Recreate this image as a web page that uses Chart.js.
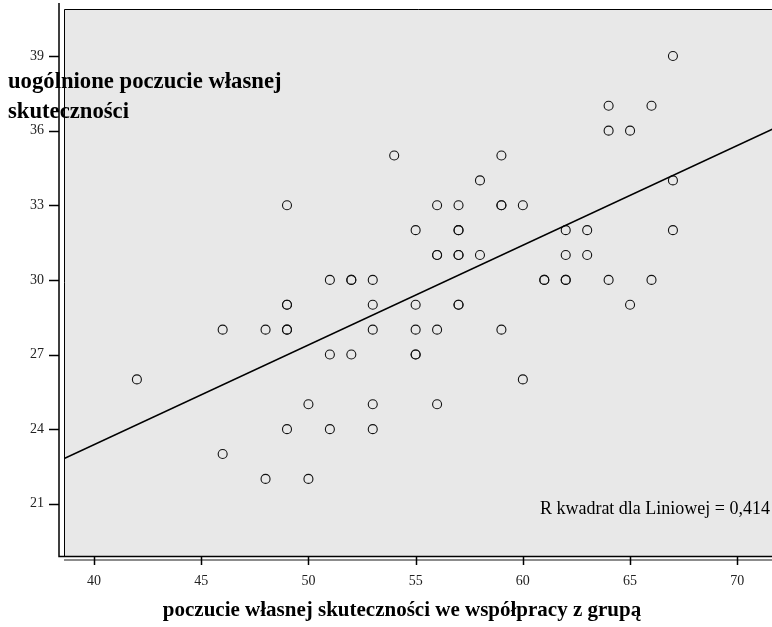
<!DOCTYPE html>
<html>
<head>
<meta charset="utf-8">
<script src="https://cdn.jsdelivr.net/npm/chart.js@4.4.1/dist/chart.umd.min.js"></script>
<style>
  html, body { margin: 0; padding: 0; background: #fff; overflow: hidden; }
  #wrap { width: 772px; height: 627px; position: relative; }
</style>
</head>
<body>
<div id="wrap"><canvas id="chart"></canvas></div>
<script>
// poczucie własnej skuteczności we współpracy z grupą (x) vs uogólnione poczucie własnej skuteczności (y)
// duplicates are kept as separate entries (drawn on top of each other, as in the original)
const collaboration = [
    42,
    46, 46,
    48, 48,
    49, 49, 49, 49, 49, 49,
    50, 50,
    51, 51, 51,
    52, 52, 52,
    53, 53, 53, 53, 53,
    54,
    55, 55, 55, 55, 55,
    56, 56, 56, 56, 56,
    57, 57, 57, 57, 57, 57, 57,
    58, 58,
    59, 59, 59, 59,
    60, 60,
    61, 61,
    62, 62, 62, 62,
    63, 63,
    64, 64, 64,
    65, 65,
    66, 66,
    67, 67, 67
];
const selfEfficacy = [
    26,
    28, 23,
    28, 22,
    33, 29, 29, 28, 28, 24,
    25, 22,
    30, 27, 24,
    30, 30, 27,
    30, 29, 28, 25, 24,
    35,
    32, 29, 28, 27, 27,
    33, 31, 31, 28, 25,
    33, 32, 32, 31, 31, 29, 29,
    34, 31,
    35, 33, 33, 28,
    33, 26,
    30, 30,
    32, 31, 30, 30,
    32, 31,
    37, 36, 30,
    36, 29,
    37, 30,
    39, 34, 32
];

// fit line at both ends
const fitX = [38, 73];
const fitY = [22.57, 36.6];

const xTicks = [40, 45, 50, 55, 60, 65, 70];
const yTicks = [21, 24, 27, 30, 33, 36, 39];

const xTitle = 'poczucie własnej skuteczności we współpracy z grupą';
const yTitle = ['uogólnione poczucie własnej', 'skuteczności'];
const rSquareLabel = 'R kwadrat dla Liniowej = 0,414';

const points = collaboration.map((x, i) => ({ x: x, y: selfEfficacy[i] }));
const fitLine = fitX.map((x, i) => ({ x: x, y: fitY[i] }));

const serif = '"Liberation Serif", "DejaVu Serif", serif';

// no extra room for the edge labels, the frame sits where the original has it
const noPadding = s => {
    s.paddingTop = 0;
    s.paddingBottom = 0;
    s.paddingLeft = 0;
    s.paddingRight = 0;
};

// frame, axis lines, ticks and texts the SPSS way
const spssFrame = {
    id: 'spssFrame',
    beforeDraw(chart) {
        const ctx = chart.ctx;
        const a = chart.chartArea;
        const xs = chart.scales.x, ys = chart.scales.y;
        ctx.save();
        ctx.fillStyle = '#ffffff';
        ctx.fillRect(0, 0, chart.width, chart.height);
        ctx.fillStyle = '#e8e8e8';
        ctx.fillRect(a.left, a.top, a.right - a.left, a.bottom - a.top);
        ctx.strokeStyle = '#000';
        ctx.lineWidth = 1;
        ctx.beginPath();
        ctx.moveTo(a.left + 0.5, a.bottom);
        ctx.lineTo(a.left + 0.5, a.top + 0.5);
        ctx.lineTo(a.right, a.top + 0.5);
        ctx.stroke();
        // shadow under the frame
        ctx.strokeStyle = '#8c8c8c';
        ctx.lineWidth = 2;
        ctx.beginPath();
        ctx.moveTo(a.left, a.bottom + 4);
        ctx.lineTo(a.right, a.bottom + 4);
        ctx.stroke();
        // axis lines
        ctx.strokeStyle = '#000';
        ctx.lineWidth = 1.5;
        ctx.beginPath();
        ctx.moveTo(a.left - 5, 3);
        ctx.lineTo(a.left - 5, a.bottom + 0.5);
        ctx.lineTo(a.right, a.bottom + 0.5);
        ctx.stroke();
        // ticks
        ctx.beginPath();
        yTicks.forEach(v => {
            const py = Math.round(ys.getPixelForValue(v)) + 0.5;
            ctx.moveTo(a.left - 15, py);
            ctx.lineTo(a.left - 5, py);
        });
        xTicks.forEach(v => {
            const px = Math.round(xs.getPixelForValue(v)) + 0.5;
            ctx.moveTo(px, a.bottom);
            ctx.lineTo(px, a.bottom + 9);
        });
        ctx.stroke();
        ctx.restore();
    },
    afterDraw(chart) {
        const ctx = chart.ctx;
        ctx.save();
        ctx.fillStyle = '#000';
        ctx.textBaseline = 'alphabetic';
        ctx.font = 'bold 22.7px ' + serif;
        ctx.textAlign = 'left';
        ctx.fillText(yTitle[0], 8, 88);
        ctx.fillText(yTitle[1], 8, 118);
        ctx.font = 'bold 21px ' + serif;
        ctx.textAlign = 'center';
        ctx.fillText(xTitle, 402, 616);
        ctx.font = '18px ' + serif;
        ctx.textAlign = 'right';
        ctx.fillText(rSquareLabel, 770, 514);
        ctx.restore();
    }
};

new Chart(document.getElementById('chart'), {
    type: 'scatter',
    data: {
        datasets: [
            {
                type: 'line',
                label: 'Liniowa',
                data: fitLine,
                borderColor: '#000',
                borderWidth: 1.6,
                pointRadius: 0,
                fill: false,
                tension: 0
            },
            {
                label: 'obserwacje',
                data: points,
                pointStyle: 'circle',
                pointRadius: 4.5,
                pointHoverRadius: 4.5,
                borderColor: '#111',
                borderWidth: 1.1,
                backgroundColor: 'rgba(0,0,0,0)'
            }
        ]
    },
    options: {
        responsive: true,
        maintainAspectRatio: false,
        animation: false,
        events: [],
        layout: { autoPadding: false, padding: { top: 9, left: 0, right: 0, bottom: 0 } },
        plugins: {
            legend: { display: false },
            tooltip: { enabled: false }
        },
        scales: {
            x: {
                type: 'linear',
                min: 38.6,
                max: 71.62,
                afterBuildTicks: s => { s.ticks = xTicks.map(v => ({ value: v })); },
                afterFit: s => { s.height = 71; noPadding(s); },
                grid: { display: false },
                border: { display: false },
                ticks: {
                    color: '#222',
                    padding: 9,
                    maxRotation: 0,
                    font: { family: serif, size: 14 }
                }
            },
            y: {
                type: 'linear',
                min: 18.9,
                max: 40.89,
                afterBuildTicks: s => { s.ticks = yTicks.map(v => ({ value: v })); },
                afterFit: s => { s.width = 64; noPadding(s); },
                grid: { display: false },
                border: { display: false },
                ticks: {
                    color: '#222',
                    padding: 12,
                    font: { family: serif, size: 14 }
                }
            }
        }
    },
    plugins: [spssFrame]
});
</script>
</body>
</html>
